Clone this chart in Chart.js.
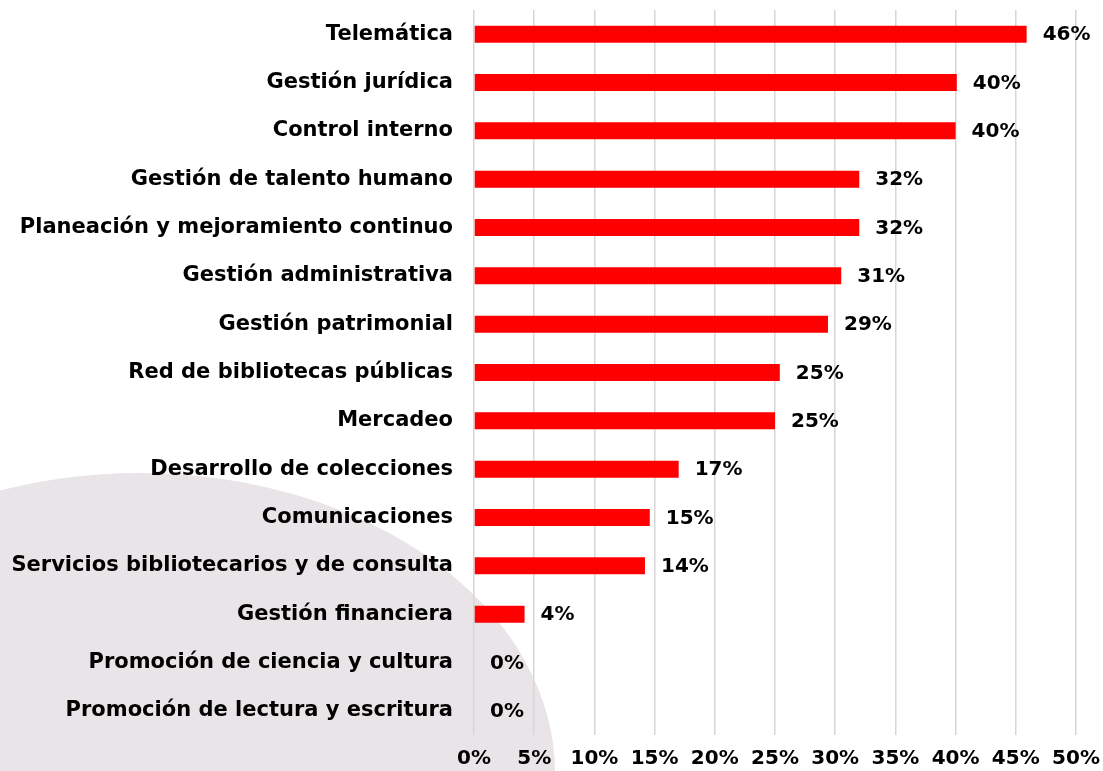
<!DOCTYPE html>
<html>
<head>
<meta charset="utf-8">
<script src="https://cdn.jsdelivr.net/npm/chart.js@4.4.1/dist/chart.umd.min.js"></script>
<style>
  html, body { margin: 0; padding: 0; background: #fff; }
  #wrap { width: 1103px; height: 771px; }
</style>
</head>
<body>
<div id="wrap"><canvas id="chartProcesos"></canvas></div>
<script>
const procesos = ['Telemática', 'Gestión jurídica', 'Control interno', 'Gestión de talento humano',
  'Planeación y mejoramiento continuo', 'Gestión administrativa', 'Gestión patrimonial',
  'Red de bibliotecas públicas', 'Mercadeo', 'Desarrollo de colecciones', 'Comunicaciones',
  'Servicios bibliotecarios y de consulta', 'Gestión financiera', 'Promoción de ciencia y cultura',
  'Promoción de lectura y escritura'];
const porcentajes = [45.9, 40.1, 40.0, 32.0, 32.0, 30.5, 29.4, 25.4, 25.0, 17.0, 14.6, 14.2, 4.2, 0, 0];
const ticksX = [0, 5, 10, 15, 20, 25, 30, 35, 40, 45, 50];

const fuente = 'DejaVu Sans, Verdana, sans-serif';

// fondo decorativo (elipse gris abajo a la izquierda)
const fondo = {
  id: 'fondo',
  beforeDraw(chart) {
    const c = chart.ctx;
    c.save();
    c.fillStyle = '#fff';
    c.fillRect(0, 0, chart.width, chart.height);
    c.fillStyle = '#e9e4e7';
    c.beginPath();
    c.ellipse(140, 773, 415, 300, 0, 0, Math.PI * 2);
    c.fill();
    c.restore();
  }
};

// etiquetas de valor al final de cada barra
const etiquetas = {
  id: 'etiquetas',
  afterDatasetsDraw(chart) {
    const c = chart.ctx;
    const meta = chart.getDatasetMeta(0);
    c.save();
    c.font = 'bold 20px ' + fuente;
    c.fillStyle = '#000';
    c.textAlign = 'left';
    c.textBaseline = 'middle';
    meta.data.forEach((bar, i) => {
      c.fillText(Math.round(porcentajes[i]) + '%', bar.x + 16, bar.y + 1);
    });
    c.restore();
  }
};

const ctx = document.getElementById('chartProcesos');

new Chart(ctx, {
  type: 'bar',
  data: {
    labels: procesos,
    datasets: [{
      data: porcentajes,
      backgroundColor: '#ff0000',
      borderWidth: 0,
      categoryPercentage: 1,
      barPercentage: 0.352
    }]
  },
  options: {
    indexAxis: 'y',
    responsive: true,
    maintainAspectRatio: false,
    animation: false,
    layout: { padding: { top: 10, right: 27, left: 0, bottom: 0 } },
    plugins: {
      legend: { display: false },
      tooltip: { enabled: false }
    },
    scales: {
      x: {
        min: 0,
        max: 50,
        afterBuildTicks(scale) {
          scale.ticks = ticksX.map(v => ({ value: v }));
        },
        afterFit(scale) {
          scale.height = 36;
          scale.paddingLeft = 0;
          scale.paddingRight = 0;
        },
        ticks: {
          callback: v => v + '%',
          color: '#000',
          padding: 12,
          maxRotation: 0,
          font: { family: fuente, size: 20, weight: 'bold' }
        },
        grid: { color: '#d6d6d6', lineWidth: 1.5, drawTicks: false },
        border: { display: false }
      },
      y: {
        afterFit(scale) {
          scale.width = 474;
          scale.paddingTop = 0;
          scale.paddingBottom = 0;
        },
        ticks: {
          color: '#000',
          padding: 21,
          autoSkip: false,
          font: { family: fuente, size: 21, weight: 'bold' }
        },
        grid: { display: false, drawTicks: false },
        border: { display: false }
      }
    }
  },
  plugins: [fondo, etiquetas]
});
</script>
</body>
</html>
